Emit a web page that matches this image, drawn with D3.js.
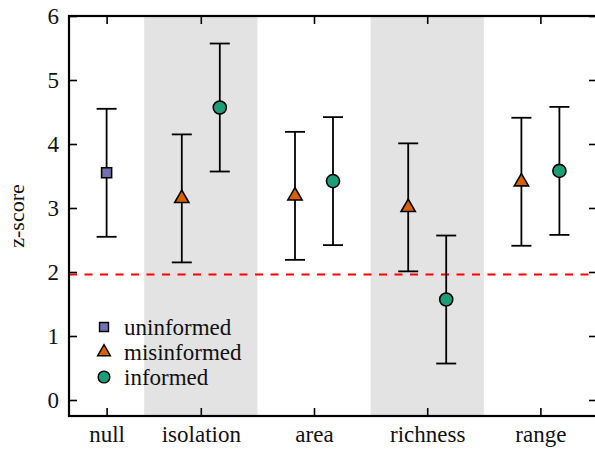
<!DOCTYPE html>
<html>
<head>
<meta charset="utf-8">
<script src="https://cdn.jsdelivr.net/npm/d3@7"></script>
</head>
<body style="margin:0; background:#fff">
<div id="chart"></div>
<script>
var categories = ["null", "isolation", "area", "richness", "range"];
var shaded = ["isolation", "richness"];
var yTicks = [0, 1, 2, 3, 4, 5, 6];
var threshold = 1.96;

var seriesNames = ["uninformed", "misinformed", "informed"];
var uninformed = [{cat: "null", value: 3.55, lo: 2.55, hi: 4.55}];
var misinformed = [
  {cat: "isolation", value: 3.15, lo: 2.15, hi: 4.15},
  {cat: "area", value: 3.19, lo: 2.19, hi: 4.19},
  {cat: "richness", value: 3.01, lo: 2.01, hi: 4.01},
  {cat: "range", value: 3.41, lo: 2.41, hi: 4.41}
];
var informed = [
  {cat: "isolation", value: 4.57, lo: 3.57, hi: 5.57},
  {cat: "area", value: 3.42, lo: 2.42, hi: 4.42},
  {cat: "richness", value: 1.57, lo: 0.57, hi: 2.57},
  {cat: "range", value: 3.58, lo: 2.58, hi: 4.58}
];

var _width = 595, _height = 450;
var pLeft = 69, pTop = 16, pRight = 597, pBottom = 416;
var serif = "'Liberation Serif'";

var svg = d3.select("#chart").append("svg")
    .attr("width", _width)
    .attr("height", _height)
    .style("display", "block");

// bands are a full 5 slots wide, the first one runs under the y axis
var band = d3.scaleBand()
    .domain(categories)
    .range([31, pRight])
    .padding(0);

// tick sits in the middle of the visible part of each band
var x = d3.scaleOrdinal()
    .domain(categories)
    .range(categories.map(function (c) {
      var x0 = Math.max(band(c), pLeft), x1 = band(c) + band.bandwidth();
      return (x0 + x1) / 2;
    }));

var y = d3.scaleLinear()
    .domain([-0.25, 6])
    .range([pBottom, pTop]);

var series = [
  {name: seriesNames[0], data: uninformed, offset: 0, symbol: d3.symbolSquare, size: 100, color: "#7570b3"},
  {name: seriesNames[1], data: misinformed, offset: -19, symbol: d3.symbolTriangle, size: 88, color: "#d95f02"},
  {name: seriesNames[2], data: informed, offset: 19, symbol: d3.symbolCircle, size: 135, color: "#1b9e77"}
];

svg.append("defs").append("clipPath").attr("id", "plot")
  .append("rect")
    .attr("x", pLeft).attr("y", pTop)
    .attr("width", pRight - pLeft).attr("height", pBottom - pTop);

svg.append("g").attr("clip-path", "url(#plot)")
  .selectAll("rect")
  .data(shaded)
  .enter().append("rect")
    .attr("x", function (d) { return band(d); })
    .attr("y", pTop)
    .attr("width", band.bandwidth())
    .attr("height", pBottom - pTop)
    .attr("fill", "#e3e3e3");

svg.append("line")
    .attr("x1", pLeft).attr("x2", pRight)
    .attr("y1", y(threshold)).attr("y2", y(threshold))
    .attr("stroke", "#ff0000")
    .attr("stroke-width", 2)
    .attr("stroke-dasharray", "8,7.5");

// axes, ticks pointing inwards on all four sides
svg.append("g").attr("class", "axis")
    .attr("transform", "translate(" + pLeft + ",0)")
    .call(d3.axisLeft(y).tickValues(yTicks).tickSize(-8).tickPadding(10).tickFormat(d3.format("d")));

svg.append("g").attr("class", "axis")
    .attr("transform", "translate(" + pRight + ",0)")
    .call(d3.axisRight(y).tickValues(yTicks).tickSize(-8).tickFormat(""));

svg.append("g").attr("class", "axis")
    .attr("transform", "translate(0," + pBottom + ")")
    .call(d3.axisBottom(x).tickSize(-8).tickPadding(10));

svg.append("g").attr("class", "axis")
    .attr("transform", "translate(0," + pTop + ")")
    .call(d3.axisTop(x).tickSize(-8).tickFormat(""));

svg.selectAll(".axis").attr("font-family", serif).attr("font-size", 23);
svg.selectAll(".axis path").remove();
svg.selectAll(".axis line").attr("stroke-width", 1.6);
svg.selectAll(".axis text")
    .style("font-family", serif)
    .style("font-size", "23px")
    .attr("fill", "#111");

svg.append("rect")
    .attr("x", pLeft).attr("y", pTop)
    .attr("width", pRight - pLeft).attr("height", pBottom - pTop)
    .attr("fill", "none")
    .attr("stroke", "#000")
    .attr("stroke-width", 2.2);

svg.append("text")
    .attr("transform", "translate(24," + ((pTop + pBottom) / 2) + ") rotate(-90)")
    .attr("text-anchor", "middle")
    .attr("fill", "#111")
    .style("font-family", serif)
    .style("font-size", "22px")
    .text("z-score");

series.forEach(function (s) {
  var g = svg.append("g").attr("class", s.name);
  var px = function (d) { return x(d.cat) + s.offset; };

  g.selectAll("line.bar").data(s.data).enter().append("line")
      .attr("class", "bar")
      .attr("x1", px).attr("x2", px)
      .attr("y1", function (d) { return y(d.lo); })
      .attr("y2", function (d) { return y(d.hi); })
      .attr("stroke", "#000").attr("stroke-width", 1.8);

  ["lo", "hi"].forEach(function (k) {
    g.selectAll("line.cap-" + k).data(s.data).enter().append("line")
        .attr("class", "cap-" + k)
        .attr("x1", function (d) { return px(d) - 10; })
        .attr("x2", function (d) { return px(d) + 10; })
        .attr("y1", function (d) { return y(d[k]); })
        .attr("y2", function (d) { return y(d[k]); })
        .attr("stroke", "#000").attr("stroke-width", 1.8);
  });

  g.selectAll("path").data(s.data).enter().append("path")
      .attr("transform", function (d) { return "translate(" + px(d) + "," + y(d.value) + ")"; })
      .attr("d", d3.symbol().type(s.symbol).size(s.size))
      .attr("fill", s.color)
      .attr("stroke", "#000")
      .attr("stroke-width", 1.6);
});

// legend
var legend = svg.append("g").attr("transform", "translate(104,327)");
var item = legend.selectAll("g").data(series).enter().append("g")
    .attr("transform", function (d, i) { return "translate(0," + (i * 25) + ")"; });
item.append("path")
    .attr("d", function (d) { return d3.symbol().type(d.symbol).size(d.size * 0.8)(); })
    .attr("fill", function (d) { return d.color; })
    .attr("stroke", "#000")
    .attr("stroke-width", 1.4);
item.append("text")
    .attr("x", 20)
    .attr("dy", "0.33em")
    .attr("fill", "#111")
    .style("font-family", serif)
    .style("font-size", "23px")
    .text(function (d) { return d.name; });
</script>
</body>
</html>
